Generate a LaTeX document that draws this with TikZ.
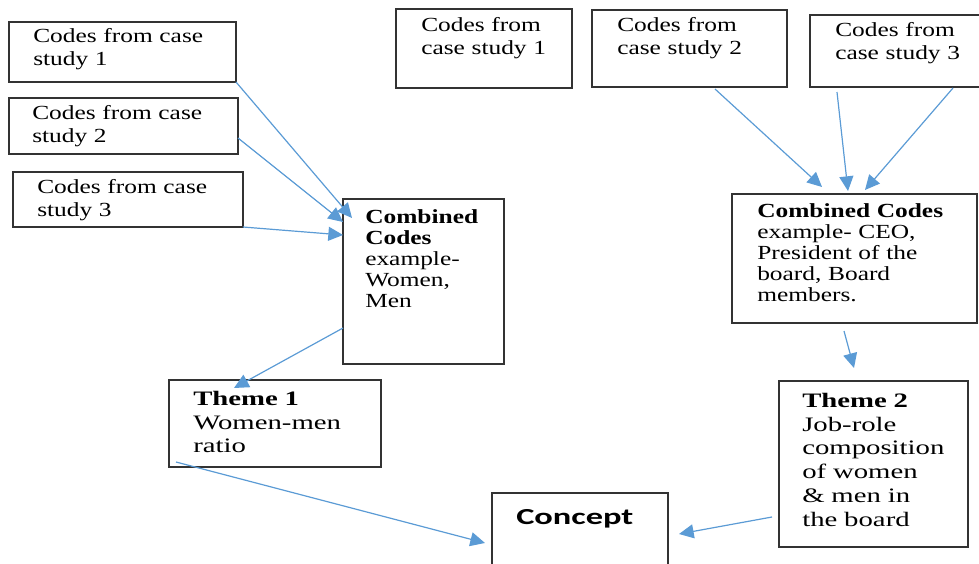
\documentclass[tikz,border=0pt]{standalone}
\usepackage{fontspec}
\setmainfont{Liberation Serif}
\newfontfamily\codesfont{Liberation Serif}[FakeStretch=1.27]
\newfontfamily\themefont{Liberation Serif}[FakeStretch=1.4]
\newfontfamily\conceptfont{Carlito}[FakeStretch=1.5]
\usetikzlibrary{arrows.meta}
\definecolor{linkblue}{RGB}{91,155,213}

\begin{document}
\begin{tikzpicture}[x=0.75pt,y=-0.75pt,
		box/.style={draw=black!80,line width=0.9pt,anchor=north west,inner sep=0pt,outer sep=0pt},
		codes/.style={anchor=base west,inner sep=0pt,align=left,text width=200pt,font=\codesfont\fontsize{15}{17.6}\selectfont},
		combined/.style={codes,font=\codesfont\fontsize{15}{15.75}\selectfont},
		theme/.style={codes,font=\themefont\fontsize{15.4}{17.8}\selectfont},
		link/.style={draw=linkblue,line width=0.9pt,-{Triangle[length=11pt,width=10.5pt]}}]
	\useasboundingbox (0,0) rectangle (979,564);

	% left side
	\node[box,minimum width=170.25pt,minimum height=45pt] (lc1) at (9,22) {};
	\node[box,minimum width=171.75pt,minimum height=42pt] (lc2) at (9,98) {};
	\node[box,minimum width=172.5pt,minimum height=41.25pt] (lc3) at (13,172) {};
	\node[box,minimum width=120.75pt,minimum height=123.75pt] (lcomb) at (343,199) {};
	\node[box,minimum width=159pt,minimum height=65.25pt] (theme1) at (169,380) {};

	\node[codes] (lc1t) at (33,42.5) {Codes from case\\study 1};
	\node[codes] (lc2t) at (32,119.5) {Codes from case\\study 2};
	\node[codes] (lc3t) at (37,193.5) {Codes from case\\study 3};
	\node[combined] (lcombt) at (365,223.5) {\textbf{Combined}\\\textbf{Codes}\\example-\\Women,\\Men};
	\node[theme] (theme1t) at (193,405.5) {\textbf{Theme 1}\\Women-men\\ratio};

	% right side
	\node[box,minimum width=132pt,minimum height=59.25pt] (rc1) at (396,9) {};
	\node[box,minimum width=146.25pt,minimum height=57.75pt] (rc2) at (592,10) {};
	\node[box,minimum width=135pt,minimum height=54pt] (rc3) at (810,15) {};
	\node[box,minimum width=183.75pt,minimum height=96.75pt] (rcomb) at (732,194) {};
	\node[box,minimum width=141.75pt,minimum height=124.5pt] (theme2) at (779,381) {};

	\node[codes] (rc1t) at (421,31.5) {Codes from\\case study 1};
	\node[codes] (rc2t) at (617,31.5) {Codes from\\case study 2};
	\node[codes] (rc3t) at (835,36.5) {Codes from\\case study 3};
	\node[combined] (rcombt) at (757,217.5) {\textbf{Combined Codes}\\example- CEO,\\President of the\\board, Board\\members.};
	\node[theme] (theme2t) at (802,407.5) {\textbf{Theme 2}\\Job-role\\composition\\of women\\\& men in\\the board};

	% concept
	\node[box,minimum width=132pt,minimum height=67.5pt] (concept) at (492,493) {};
	\node[anchor=base west,inner sep=0pt,font=\conceptfont\bfseries\fontsize{17.2}{20}\selectfont] (conceptt) at (516,524) {Concept};

	% links
	\draw[link] (lc1.south east) -- ([shift={(9,19)}]lcomb.north west);
	\draw[link] ([shift={(0,-16)}]lc2.south east) -- ([shift={(0,23)}]lcomb.north west);
	\draw[link] (lc3.south east) -- ([shift={(0,36)}]lcomb.north west);
	\draw[link] ([shift={(0,-36)}]lcomb.south west) -- ([shift={(65,8)}]theme1.north west);
	\draw[link] ([shift={(7,-5)}]theme1.south west) -- ([shift={(-7,50)}]concept.north west);
	\draw[link] ([shift={(-72,2)}]rc2.south east) -- ([shift={(90,-7)}]rcomb.north west);
	\draw[link] ([shift={(27,5)}]rc3.south west) -- ([shift={(116,-3)}]rcomb.north west);
	\draw[link] ([shift={(143,1)}]rc3.south west) -- ([shift={(133,-4)}]rcomb.north west);
	\draw[link] ([shift={(112,8)}]rcomb.south west) -- ([shift={(75,-13)}]theme2.north west);
	\draw[link] ([shift={(-7,-30)}]theme2.south west) -- ([shift={(11,41)}]concept.north east);
\end{tikzpicture}
\end{document}
